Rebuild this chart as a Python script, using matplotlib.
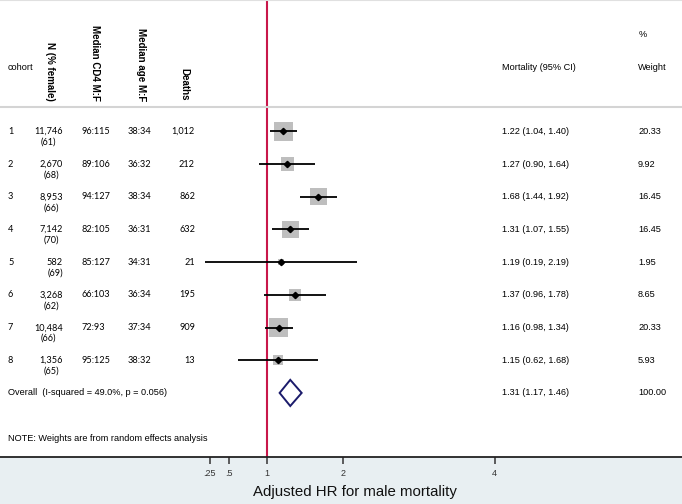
import numpy as np
import matplotlib.pyplot as plt
from matplotlib.patches import Polygon
import matplotlib.transforms as mtransforms

# study rows
cohort = ['1', '2', '3', '4', '5', '6', '7', '8']
n_total = ['11,746', '2,670', '8,953', '7,142', '582', '3,268', '10,484', '1,356']
pct_female = ['(61)', '(68)', '(66)', '(70)', '(69)', '(62)', '(66)', '(65)']
cd4 = ['96:115', '89:106', '94:127', '82:105', '85:127', '66:103', '72:93', '95:125']
age = ['38:34', '36:32', '38:34', '36:31', '34:31', '36:34', '37:34', '38:32']
deaths = ['1,012', '212', '862', '632', '21', '195', '909', '13']
hr = [1.22, 1.27, 1.68, 1.31, 1.19, 1.37, 1.16, 1.15]
ci_lo = [1.04, 0.90, 1.44, 1.07, 0.19, 0.96, 0.98, 0.62]
ci_hi = [1.40, 1.64, 1.92, 1.55, 2.19, 1.78, 1.34, 1.68]
weight = [20.33, 9.92, 16.45, 16.45, 1.95, 8.65, 20.33, 5.93]

# pooled estimate
overall_hr = 1.31
overall_lo = 1.17
overall_hi = 1.46
overall_weight = 100.00
overall_label = 'Overall  (I-squared = 49.0%, p = 0.056)'

xticks = [0.25, 0.5, 1, 2, 4]
xtick_labels = ['.25', '.5', '1', '2', '4']

W, H = 682, 504
fig = plt.figure(figsize=(W / 100, H / 100), dpi=100, facecolor='#e8eff2')
ax = fig.add_axes([0, 1 - 456.7 / H, 1, 456.7 / H])
ax.set_facecolor('white')

ax.set_xlim(-190.7 / 76, (W - 190.7) / 76)
ax.set_ylim(10.95, -3.015)

rows = np.arange(1, len(cohort) + 1)
ov_row = len(cohort) + 1

# reference line at 1
ax.axvline(1, color='#c8174a', lw=1.5, zorder=1)
# header separator
ax.axhline(0.257, color='#d4d4d4', lw=1.5, zorder=1)

# weight boxes, CI lines, point estimates
ax.scatter(hr, rows, s=[9.2 * w for w in weight], marker='s', color='#bebebe',
           linewidths=0, zorder=2)
ax.hlines(rows, ci_lo, ci_hi, color='black', lw=1.3, zorder=3)
ax.plot(hr, rows, 'D', color='black', ms=3.2, zorder=4)

# pooled diamond
dh = 0.4
diamond = Polygon([(overall_lo, ov_row), (overall_hr, ov_row - dh),
                   (overall_hi, ov_row), (overall_hr, ov_row + dh)],
                  closed=True, fill=False, edgecolor='#1b1b6b', lw=1.4, zorder=3)
ax.add_patch(diamond)

# axis styling
for s in ['left', 'right']:
    ax.spines[s].set_visible(False)
ax.spines['top'].set_color('#e0e0e0')
ax.spines['top'].set_linewidth(0.8)
ax.spines['bottom'].set_color('#222222')
ax.spines['bottom'].set_linewidth(1.3)
ax.set_yticks([])
ax.set_xticks(xticks)
ax.set_xticklabels(xtick_labels, fontsize=6.5, color='#333333', family='Liberation Sans')
ax.tick_params(axis='x', direction='out', length=5, width=1.1, color='#333333', pad=3.5)
ax.set_xlabel('Adjusted HR for male mortality', fontsize=10.8, family='Liberation Sans',
              color='#111111')
ax.xaxis.set_label_coords(354.5 / W, -(492 - 456.7) / 456.7)
ax.xaxis.label.set_verticalalignment('center')

# text columns: x in axes fraction, y in data rows
tr = mtransforms.blended_transform_factory(ax.transAxes, ax.transData)
def px(v):
    return v / W

arial = 'Liberation Sans'
calib = 'Lato'
fs_head = 6.6
fs_num = 6.6

# headers
ax.text(px(8), -0.966, 'cohort', transform=tr, ha='left', va='center',
        fontsize=fs_head, family=arial)
for xc, lab in [(50, 'N (% female)'), (95, 'Median CD4 M:F'),
                (141.5, 'Median age M:F'), (184.5, 'Deaths')]:
    ax.text(px(xc), 0.07, lab, transform=tr, ha='center', va='bottom', rotation=-90,
            fontsize=7.0, family=arial, fontweight='bold')
ax.text(px(502), -0.966, 'Mortality (95% CI)', transform=tr, ha='left', va='center',
        fontsize=fs_head, family=arial)
ax.text(px(639), -1.975, '%', transform=tr, ha='left', va='center',
        fontsize=fs_head, family=arial)
ax.text(px(638), -0.966, 'Weight', transform=tr, ha='left', va='center',
        fontsize=fs_head, family=arial)

for i, r in enumerate(rows):
    ax.text(px(8), r, cohort[i], transform=tr, ha='left', va='center',
            fontsize=fs_num, family=calib)
    ax.text(px(63), r + 0.17, n_total[i] + '\n' + pct_female[i], transform=tr,
            ha='right', va='center', multialignment='center', linespacing=1.25,
            fontsize=fs_num, family=calib)
    ax.text(px(82), r, cd4[i], transform=tr, ha='left', va='center',
            fontsize=fs_num, family=calib)
    ax.text(px(128), r, age[i], transform=tr, ha='left', va='center',
            fontsize=fs_num, family=calib)
    ax.text(px(195), r, deaths[i], transform=tr, ha='right', va='center',
            fontsize=fs_num, family=calib)
    ax.text(px(502), r, f'{hr[i]:.2f} ({ci_lo[i]:.2f}, {ci_hi[i]:.2f})', transform=tr,
            ha='left', va='center', fontsize=fs_head, family=arial)
    ax.text(px(638), r, f'{weight[i]:.2f}', transform=tr, ha='left', va='center',
            fontsize=fs_head, family=arial)

ax.text(px(8), ov_row, overall_label, transform=tr, ha='left', va='center',
        fontsize=fs_head, family=arial)
ax.text(px(502), ov_row, f'{overall_hr:.2f} ({overall_lo:.2f}, {overall_hi:.2f})',
        transform=tr, ha='left', va='center', fontsize=fs_head, family=arial)
ax.text(px(638), ov_row, f'{overall_weight:.2f}', transform=tr, ha='left', va='center',
        fontsize=fs_head, family=arial)

ax.text(px(8), 10.38, 'NOTE: Weights are from random effects analysis', transform=tr,
        ha='left', va='center', fontsize=fs_head, family=arial)

fig.savefig('out.png', dpi=100, facecolor=fig.get_facecolor())
